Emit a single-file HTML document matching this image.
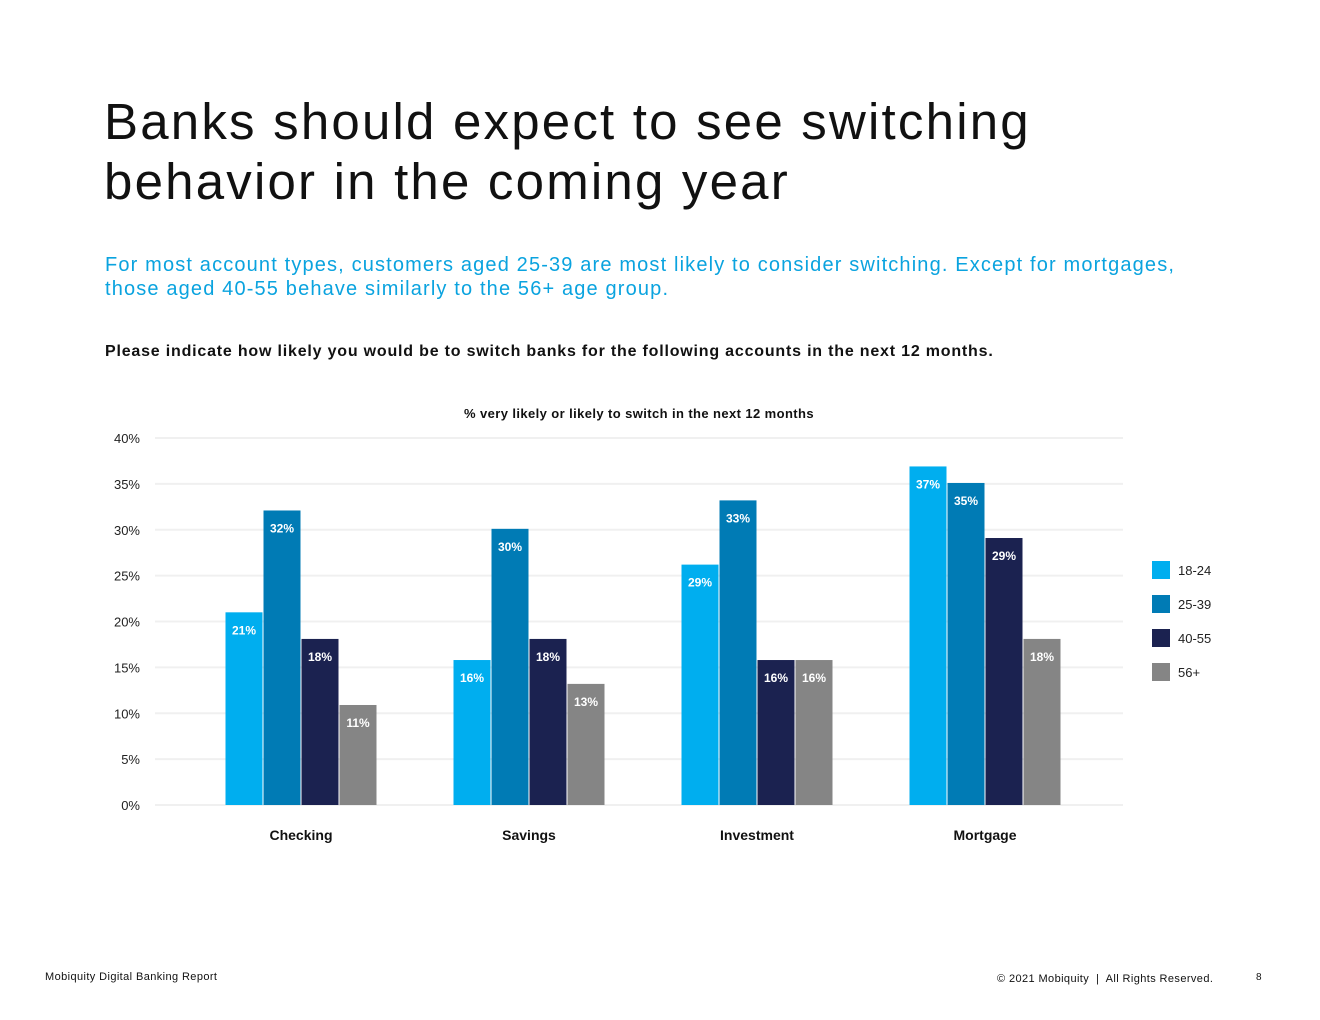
<!DOCTYPE html>
<html><head><meta charset="utf-8"><style>
body{margin:0;background:#fff;font-family:"Liberation Sans",sans-serif;}
#page{position:relative;width:1320px;height:1020px;overflow:hidden;background:#fff;}
.abs{position:absolute;white-space:nowrap;}
</style></head><body>
<div id="page">
<div class="abs" style="left:104px;top:92px;font-size:51px;line-height:60px;color:#111;letter-spacing:2.2px;">Banks should expect to see switching<br>behavior in the coming year</div>
<div class="abs" style="left:105px;top:253px;font-size:20px;line-height:24px;color:#0aa3df;letter-spacing:1.15px;">For most account types, customers aged 25-39 are most likely to consider switching. Except for mortgages,<br>those aged 40-55 behave similarly to the 56+ age group.</div>
<div class="abs" style="left:105px;top:343px;font-size:16px;font-weight:bold;color:#111;letter-spacing:0.8px;">Please indicate how likely you would be to switch banks for the following accounts in the next 12 months.</div>
<svg id="chart" style="position:absolute;left:0;top:0" width="1320" height="1020"></svg>
<div class="abs" style="left:45px;top:971px;font-size:11px;color:#111;letter-spacing:0.4px;">Mobiquity Digital Banking Report</div>
<div class="abs" style="left:997px;top:973px;font-size:11px;color:#111;letter-spacing:0.4px;">© 2021 Mobiquity &nbsp;|&nbsp; All Rights Reserved.</div>
<div class="abs" style="left:1256px;top:972px;font-size:10px;color:#111;">8</div>
</div>
<script>
const categories=["Checking","Savings","Investment","Mortgage"];
const seriesNames=["18-24","25-39","40-55","56+"];
const s1824=[21,15.8,26.2,36.9];
const s2539=[32.1,30.1,33.2,35.1];
const s4055=[18.1,18.1,15.8,29.1];
const s56=[10.9,13.2,15.8,18.1];
const labels1824=["21%","16%","29%","37%"];
const labels2539=["32%","30%","33%","35%"];
const labels4055=["18%","18%","16%","29%"];
const labels56=["11%","13%","16%","18%"];
const yTicks=[0,5,10,15,20,25,30,35,40];
const colors=["#00aeef","#007bb5","#1b2250","#858585"];
const series=[s1824,s2539,s4055,s56];
const seriesLabels=[labels1824,labels2539,labels4055,labels56];
const svg=document.getElementById('chart');
const NS="http://www.w3.org/2000/svg";
const x0=155,x1=1123,y0=805,yTop=438,yMax=40;
function yS(v){return y0-(v/yMax)*(y0-yTop);}
function xC(i){return 301+i*228;}
function mk(tag,attrs){const e=document.createElementNS(NS,tag);for(const k in attrs)e.setAttribute(k,attrs[k]);svg.appendChild(e);return e;}
yTicks.forEach(t=>{
  const l=mk('line',{x1:x0,x2:x1,y1:yS(t),y2:yS(t),stroke:'#f0f0f0','stroke-width':2});
  
  
  const tx=mk('text',{x:140,y:yS(t)+5,'text-anchor':'end','font-size':13,fill:'#222','font-family':'Liberation Sans'});
  tx.textContent=t+'%';
  
  
});
const ct=mk('text',{x:639,y:418,'text-anchor':'middle','font-size':13,'font-weight':'bold',fill:'#111','font-family':'Liberation Sans','letter-spacing':'0.4'});
ct.textContent='% very likely or likely to switch in the next 12 months';


const bw=37,gap=1;
categories.forEach((c,i)=>{
  series.forEach((s,j)=>{
    const x=xC(i)-2*(bw+gap)+j*(bw+gap)+0.5;
    const r=mk('rect',{x:x,y:yS(s[i]),width:bw,height:y0-yS(s[i]),fill:colors[j]});
    
    
    const t=mk('text',{x:x+bw/2,y:yS(s[i])+22,'text-anchor':'middle','font-size':12,'font-weight':'bold',fill:'#fff','font-family':'Liberation Sans'});
    t.textContent=seriesLabels[j][i];
    
    
  });
  const cl=mk('text',{x:xC(i),y:840,'text-anchor':'middle','font-size':14,'font-weight':'bold',fill:'#111','font-family':'Liberation Sans'});
  cl.textContent=c;
  
  
});
seriesNames.forEach((n,j)=>{
  const y=561+j*34;
  const r=mk('rect',{x:1152,y:y,width:18,height:18,fill:colors[j]});
  
  
  const t=mk('text',{x:1178,y:y+14,'font-size':13,fill:'#222','font-family':'Liberation Sans'});
  t.textContent=n;
  
  
});
</script>
</body></html>
